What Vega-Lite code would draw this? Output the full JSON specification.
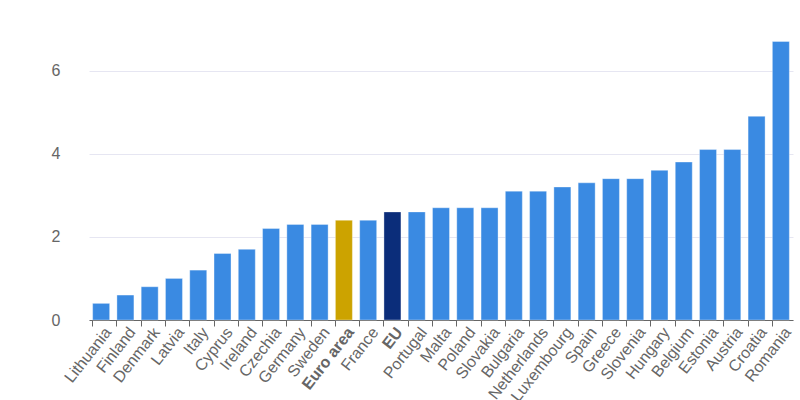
{
  "$schema": "https://vega.github.io/schema/vega-lite/v6.json",
  "width": 704,
  "height": 291,
  "autosize": {"type": "none"},
  "padding": {"left": 89, "top": 29, "right": 7, "bottom": 80},
  "background": "#ffffff",
  "config": {"view": {"stroke": null}, "font": "Liberation Sans"},
  "data": {"values": [
    {"country": "Lithuania", "value": 0.4, "group": "country"},
    {"country": "Finland", "value": 0.6, "group": "country"},
    {"country": "Denmark", "value": 0.8, "group": "country"},
    {"country": "Latvia", "value": 1.0, "group": "country"},
    {"country": "Italy", "value": 1.2, "group": "country"},
    {"country": "Cyprus", "value": 1.6, "group": "country"},
    {"country": "Ireland", "value": 1.7, "group": "country"},
    {"country": "Czechia", "value": 2.2, "group": "country"},
    {"country": "Germany", "value": 2.3, "group": "country"},
    {"country": "Sweden", "value": 2.3, "group": "country"},
    {"country": "Euro area", "value": 2.4, "group": "euro"},
    {"country": "France", "value": 2.4, "group": "country"},
    {"country": "EU", "value": 2.6, "group": "eu"},
    {"country": "Portugal", "value": 2.6, "group": "country"},
    {"country": "Malta", "value": 2.7, "group": "country"},
    {"country": "Poland", "value": 2.7, "group": "country"},
    {"country": "Slovakia", "value": 2.7, "group": "country"},
    {"country": "Bulgaria", "value": 3.1, "group": "country"},
    {"country": "Netherlands", "value": 3.1, "group": "country"},
    {"country": "Luxembourg", "value": 3.2, "group": "country"},
    {"country": "Spain", "value": 3.3, "group": "country"},
    {"country": "Greece", "value": 3.4, "group": "country"},
    {"country": "Slovenia", "value": 3.4, "group": "country"},
    {"country": "Hungary", "value": 3.6, "group": "country"},
    {"country": "Belgium", "value": 3.8, "group": "country"},
    {"country": "Estonia", "value": 4.1, "group": "country"},
    {"country": "Austria", "value": 4.1, "group": "country"},
    {"country": "Croatia", "value": 4.9, "group": "country"},
    {"country": "Romania", "value": 6.7, "group": "country"}
  ]},
  "mark": {"type": "bar", "stroke": "#ffffff", "strokeOpacity": 0.35, "strokeWidth": 1},
  "encoding": {
    "x": {
      "field": "country", "type": "nominal", "sort": null,
      "scale": {"paddingInner": 0.3, "paddingOuter": 0.15},
      "axis": {
        "title": null,
        "bandPosition": 0,
        "labelAngle": -52,
        "labelOffset": 7,
        "labelFontSize": 16,
        "labelColor": "#666666",
        "labelFontWeight": {"condition": {"test": "datum.value === 'EU' || datum.value === 'Euro area'", "value": "bold"}, "value": "normal"},
        "labelPadding": 3,
        "labelOverlap": false,
        "domainColor": "#666666",
        "tickColor": "#666666",
        "tickSize": 6,
        "grid": false
      }
    },
    "y": {
      "field": "value", "type": "quantitative",
      "scale": {"domain": [0, 7], "nice": false},
      "axis": {
        "title": null,
        "values": [0, 2, 4, 6],
        "domain": false,
        "ticks": false,
        "labelPadding": 29,
        "labelFontSize": 16,
        "labelColor": "#666666",
        "gridColor": "#e6e6f2",
        "gridWidth": 1
      }
    },
    "color": {
      "field": "group", "type": "nominal", "legend": null,
      "scale": {"domain": ["country", "euro", "eu"], "range": ["#3a8ae2", "#cca300", "#0b2d7a"]}
    }
  }
}
